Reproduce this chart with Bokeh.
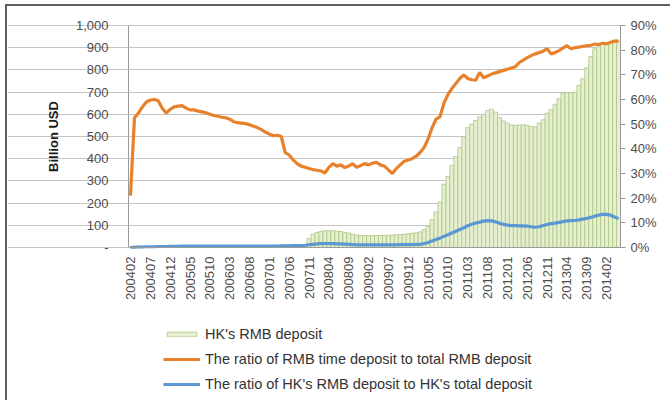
from math import pi
from bokeh.plotting import figure
from bokeh.models import (Range1d, LinearAxis, FixedTicker, NumeralTickFormatter,
                          PrintfTickFormatter, Legend, LegendItem, ColumnDataSource, Label)
from bokeh.embed import file_html
from bokeh.resources import INLINE

# ---- data -------------------------------------------------------------
# months 200402 .. 201405
months = [f"{2004 + (k + 1) // 12}{(k + 1) % 12 + 1:02d}" for k in range(124)]

# HK's RMB deposit (left axis, "Billion USD")
hk_rmb_deposit = [
    1, 1, 2, 2, 2, 3, 3, 3, 4, 4, 5,
    5, 6, 6, 7, 7, 7, 7, 8, 8, 8, 8, 8,
    8, 8, 8, 8, 8, 8, 8, 8, 8, 8, 8, 8,
    8, 9, 9, 9, 10, 10, 11, 11, 12, 13,
    40, 60, 68, 72, 75, 76, 76, 74, 72, 68, 65, 60, 56,
    54, 53, 53, 53, 54, 54, 54, 55, 56, 57, 58, 59, 62, 64, 66, 70,
    80, 95, 125, 160, 205, 285, 320, 370, 410, 450, 500, 540, 555, 572, 588, 600,
    617, 622, 610, 585, 570, 560, 552, 550, 552, 553, 550, 545, 543, 560, 575,
    605, 620, 645, 670, 695, 698, 697, 700, 730, 760, 810, 860, 895, 905, 915,
    920, 926, 935, 930,
]

# Ratio of RMB time deposit to total RMB deposit (right axis, %)
time_deposit_ratio = [
    21.0, 52.5, 54.5, 57.0, 59.0, 59.8, 60.0, 59.5, 56.5, 54.5, 56.0, 57.0,
    57.3, 57.5, 56.5, 55.8, 55.8, 55.3, 55.0, 54.6, 54.0, 53.5, 53.2, 52.8,
    52.6, 52.0, 51.0, 50.6, 50.4, 50.2, 49.8, 49.2, 48.6, 47.8, 46.8, 46.0,
    45.3, 45.5, 45.0, 38.5, 37.5, 35.5, 34.0, 33.0, 32.5, 32.0, 31.6, 31.3,
    31.0, 30.2, 32.5, 34.0, 33.0, 33.5, 32.4, 33.0, 34.0, 32.5, 33.2, 34.0,
    33.5, 34.2, 34.5, 33.5, 33.0, 31.5, 30.0, 32.0, 33.5, 35.0, 35.5, 36.0,
    37.0, 38.5, 40.5, 44.0, 48.5, 52.0, 53.0, 58.5, 62.0, 64.5, 66.5, 68.5,
    70.0, 68.5, 68.0, 67.8, 71.0, 68.8, 69.5, 70.3, 70.8, 71.3, 71.8, 72.3,
    72.8, 73.3, 75.0, 76.0, 77.0, 77.8, 78.5, 79.0, 79.6, 80.6, 78.5, 79.0,
    79.8, 80.8, 81.8, 80.6, 81.0, 81.2, 81.6, 81.8, 82.0, 82.5, 82.3, 82.8,
    82.6, 83.2, 83.6, 83.8,
]

# Ratio of HK's RMB deposit to HK's total deposit (right axis, %)
hk_share_ratio = [
    0.1, 0.1, 0.2, 0.2, 0.3, 0.3, 0.3, 0.4, 0.4, 0.4, 0.5, 0.5,
    0.5, 0.6, 0.6, 0.6, 0.6, 0.6, 0.6, 0.6, 0.6, 0.6, 0.6, 0.6,
    0.6, 0.6, 0.6, 0.6, 0.6, 0.6, 0.6, 0.6, 0.6, 0.6, 0.6, 0.6,
    0.6, 0.6, 0.7, 0.7, 0.7, 0.8, 0.8, 0.8, 0.9, 1.1, 1.3, 1.5,
    1.6, 1.6, 1.6, 1.6, 1.5, 1.5, 1.4, 1.3, 1.2, 1.1, 1.1, 1.1,
    1.1, 1.1, 1.1, 1.1, 1.1, 1.1, 1.1, 1.1, 1.2, 1.2, 1.2, 1.2,
    1.3, 1.3, 1.6, 2.0, 2.6, 3.2, 3.8, 4.5, 5.2, 5.9, 6.6, 7.3,
    8.0, 8.8, 9.4, 9.9, 10.3, 10.7, 10.9, 10.8, 10.4, 9.8, 9.4, 9.1,
    8.9, 8.9, 8.8, 8.8, 8.7, 8.4, 8.2, 8.4, 8.9, 9.3, 9.7, 9.9,
    10.2, 10.5, 10.8, 10.9, 11.0, 11.2, 11.5, 11.8, 12.2, 12.7, 13.1, 13.4,
    13.4, 13.1, 12.4, 11.7,
]

left_ticks = [0, 100, 200, 300, 400, 500, 600, 700, 800, 900, 1000]
right_ticks = [0, 10, 20, 30, 40, 50, 60, 70, 80, 90]
x_tick_idx = list(range(0, len(months), 5))
y_label = "Billion USD"

idx = list(range(len(months)))
src = ColumnDataSource(dict(x=idx, month=months, dep=hk_rmb_deposit,
                            tdr=time_deposit_ratio, hks=hk_share_ratio))

# ---- layout geometry (pixels) -----------------------------------------
N = len(months)
OFF_X, OFF_Y = 7, 6              # host margin + border
AXIS_X = 128                     # page x of the category axis start
RIGHT_X = 620                    # page x of the category axis end
TOP_Y, ZERO_Y = 25, 247          # page y of 1000 / 0
FRAME_TOP, FRAME_BOTTOM = 8, 400
FRAME_W = RIGHT_X - OFF_X
FRAME_H = FRAME_BOTTOM - FRAME_TOP
px_per_cat = (RIGHT_X - AXIS_X) / N
x_start = -0.5 - (AXIS_X - OFF_X) / px_per_cat
left_top, pct_top = 1000, 90
span = ZERO_Y - TOP_Y
y_start = -left_top * (FRAME_BOTTOM - ZERO_Y) / span
y_end = left_top * (ZERO_Y - FRAME_TOP) / span
pct_start = -pct_top * (FRAME_BOTTOM - ZERO_Y) / span
pct_end = pct_top * (ZERO_Y - FRAME_TOP) / span

FONT = "Liberation Sans"
GRID = "#c4c4c4"
AXIS = "#9a9a9a"
TICKTXT = "#4d4d4d"

p = figure(frame_width=FRAME_W, frame_height=FRAME_H,
           output_backend="svg", toolbar_location=None,
           x_range=Range1d(x_start, N - 0.5),
           y_range=Range1d(y_start, y_end),
           min_border_left=0, min_border_right=50, min_border_top=FRAME_TOP - OFF_Y,
           min_border_bottom=0, background_fill_color="white",
           border_fill_color="white")
p.extra_y_ranges = {"pct": Range1d(pct_start, pct_end)}
p.outline_line_color = None
p.xgrid.grid_line_color = None
p.ygrid.grid_line_color = GRID
p.ygrid.ticker = FixedTicker(ticks=left_ticks)
p.ygrid.bounds = (-0.5, N - 0.5)

bars = p.vbar(x="x", top="dep", width=1.0, source=src,
              fill_color="#e6efd2", line_color="#adc682", line_width=0.8)
orange = p.line(x="x", y="tdr", source=src, y_range_name="pct",
                line_color="#e8812c", line_width=3.2)
blue = p.line(x="x", y="hks", source=src, y_range_name="pct",
              line_color="#5b97d1", line_width=3.2)

# left axis, pinned at the start of the categories
ya = p.yaxis[0]
ya.fixed_location = -0.5
ya.ticker = FixedTicker(ticks=left_ticks)
ya.bounds = (0, left_top)
ya.formatter = NumeralTickFormatter(format="0,0")
ya.major_label_overrides = {0: "-"}
ya.major_label_text_font = FONT
ya.major_label_text_font_size = "13px"
ya.major_label_text_color = TICKTXT
ya.major_label_standoff = 15
ya.major_tick_out = 5
ya.major_tick_in = 0
ya.minor_tick_out = 0
ya.minor_tick_in = 0
ya.axis_line_color = AXIS
ya.major_tick_line_color = GRID

p.add_layout(Label(x=-0.5, y=left_top / 2, x_offset=-75, text=y_label, angle=pi / 2,
                   text_align="center", text_baseline="middle", text_font=FONT,
                   text_font_size="13px", text_font_style="bold", text_color="#1a1a1a"))

# right axis
ra = LinearAxis(y_range_name="pct", ticker=FixedTicker(ticks=right_ticks),
                formatter=PrintfTickFormatter(format="%d%%"), bounds=(0, pct_top))
ra.major_label_text_font = FONT
ra.major_label_text_font_size = "13px"
ra.major_label_text_color = TICKTXT
ra.major_label_standoff = 5
ra.major_tick_out = 5
ra.major_tick_in = 0
ra.minor_tick_out = 0
ra.minor_tick_in = 0
ra.axis_line_color = AXIS
ra.major_tick_line_color = AXIS
p.add_layout(ra, "right")

# bottom axis, pinned to the zero line
xa = p.xaxis[0]
xa.fixed_location = 0
xa.bounds = (-0.5, N - 0.5)
xa.ticker = FixedTicker(ticks=x_tick_idx)
xa.major_label_overrides = {i: months[i] for i in x_tick_idx}
xa.major_label_orientation = pi / 2
xa.major_label_text_font = FONT
xa.major_label_text_font_size = "13px"
xa.major_label_text_color = TICKTXT
xa.major_label_standoff = 9
xa.major_tick_out = 0
xa.major_tick_in = 0
xa.minor_tick_out = 0
xa.minor_tick_in = 0
xa.axis_line_color = AXIS

legend = Legend(items=[
    LegendItem(label="HK's RMB deposit", renderers=[bars]),
    LegendItem(label="The ratio of RMB time deposit to total RMB deposit", renderers=[orange]),
    LegendItem(label="The ratio of HK's RMB deposit to HK's total deposit", renderers=[blue]),
], location=(AXIS_X - OFF_X + 35, 8), orientation="vertical", padding=0, margin=0,
    spacing=9, glyph_width=37, glyph_height=6, label_height=16,
    label_standoff=5, border_line_color=None, background_fill_alpha=0,
    label_text_font=FONT, label_text_font_size="14.5px", label_text_color="#333333",
    label_text_baseline="alphabetic")
p.add_layout(legend, "center")

p.styles = {"border-top": "2px solid #5f5f5f", "border-left": "2px solid #5f5f5f",
            "margin-top": "4px", "margin-left": "5px"}

open("out.html", "w").write(file_html(p, INLINE))
